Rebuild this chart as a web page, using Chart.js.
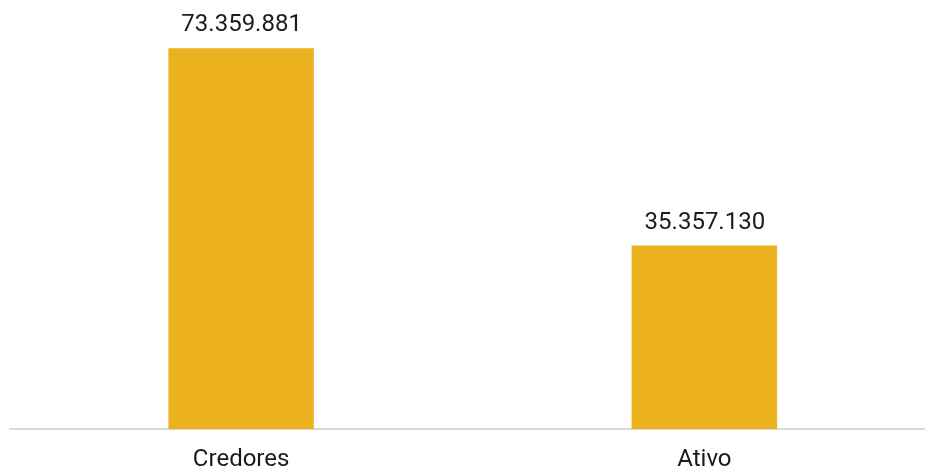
<!DOCTYPE html>
<html>
<head>
<meta charset="utf-8">
<script src="https://cdn.jsdelivr.net/npm/chart.js@4"></script>
<style>
  html, body { margin: 0; padding: 0; background: #fff; overflow: hidden; }
  #wrap { width: 940px; height: 491px; }
</style>
</head>
<body>
<div id="wrap"><canvas id="chart"></canvas></div>
<script>
const categories = ['Credores', 'Ativo']
const values = [73359881, 35357130]

const barColor = '#ECB11E'
const textColor = '#1b1b1b'

function formatBR(n) {
    return String(n).replace(/\B(?=(\d{3})+(?!\d))/g, '.')
}

// draws the value above each bar
const valueLabels = {
    id: 'valueLabels',
    afterDatasetsDraw(chart) {
        const ctx = chart.ctx
        const meta = chart.getDatasetMeta(0)
        ctx.save()
        ctx.font = '24px Roboto'
        ctx.fillStyle = textColor
        ctx.textAlign = 'center'
        ctx.textBaseline = 'alphabetic'
        meta.data.forEach((bar, i) => {
            ctx.fillText(formatBR(values[i]), bar.x + 0.5, bar.y - 17)
        })
        ctx.restore()
    },
}

new Chart(document.getElementById('chart'), {
    type: 'bar',
    data: {
        labels: categories,
        datasets: [
            {
                data: values,
                backgroundColor: barColor,
                borderWidth: 0,
                barPercentage: 0.314,
                categoryPercentage: 1,
            },
        ],
    },
    options: {
        responsive: true,
        maintainAspectRatio: false,
        animation: false,
        layout: { padding: { left: 9.5, right: 4, top: 0, bottom: 0 } },
        plugins: {
            legend: { display: false },
            tooltip: { enabled: false },
        },
        scales: {
            x: {
                grid: { display: false, drawTicks: false },
                border: { display: true, color: '#d9d9d9', width: 2 },
                ticks: {
                    color: textColor,
                    font: { family: 'Roboto', size: 24 },
                    padding: 16.5,
                },
            },
            y: {
                display: false,
                min: 0,
                max: 82660000,
            },
        },
    },
    plugins: [valueLabels],
})
</script>
</body>
</html>
